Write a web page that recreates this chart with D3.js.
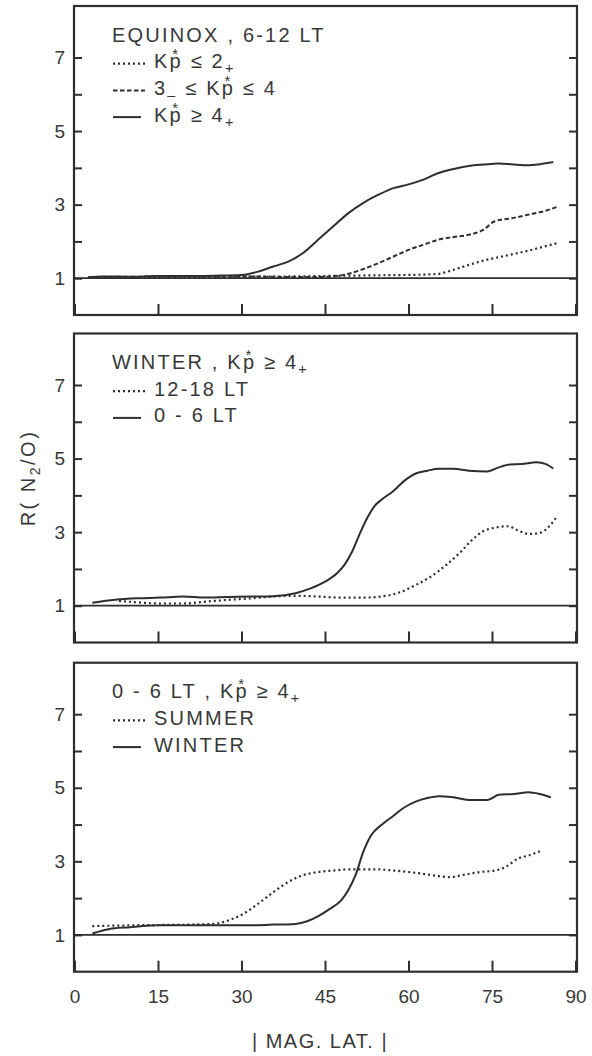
<!DOCTYPE html>
<html><head><meta charset="utf-8">
<script src="https://cdn.jsdelivr.net/npm/d3@7"></script>
<style>
body{margin:0;background:#fff}
svg{display:block}
text{font-family:"Liberation Sans",Arial,Helvetica,sans-serif;fill:#383838}
</style>
</head><body>
<svg id="chart" width="592" height="1056"></svg>
<script>
// ---------- data ----------
const xTickValues = [0, 15, 30, 45, 60, 75, 90];
const yTickValues = [1, 2, 3, 4, 5, 6, 7];
const yTickLabels = [1, 3, 5, 7];

// Panel 1: EQUINOX, 6-12 LT
const eqLatLow = [2.5, 10, 20, 30, 40, 45, 50, 55, 60, 63, 65.4, 68.1, 70.8, 73.5, 76.2, 78.9, 81.6, 84.3, 86.7];
const eqLow    = [1.02, 1.03, 1.03, 1.04, 1.05, 1.06, 1.07, 1.08, 1.09, 1.10, 1.12, 1.23, 1.36, 1.48, 1.57, 1.66, 1.75, 1.86, 1.95];
const eqLatMid = [2.5, 10, 20, 30, 35, 40, 45, 47.5, 49.2, 51.9, 54.6, 57.3, 60, 62.7, 65.4, 68.1, 70.8, 73.5, 75.5, 78.9, 81.6, 84.3, 86.7];
const eqMid    = [1.03, 1.04, 1.05, 1.05, 1.04, 1.03, 1.04, 1.07, 1.12, 1.25, 1.41, 1.59, 1.77, 1.91, 2.05, 2.12, 2.18, 2.32, 2.55, 2.64, 2.73, 2.82, 2.94];
const eqLatHigh = [2.5, 5, 10, 15, 20, 25, 30, 33, 35.7, 38.4, 41, 43.8, 46.5, 49.2, 51.9, 54.6, 57.3, 60, 62.7, 65.4, 68.1, 70.8, 73.5, 76.2, 78.9, 81.6, 83.6, 86];
const eqHigh    = [1.03, 1.05, 1.04, 1.06, 1.06, 1.07, 1.09, 1.18, 1.32, 1.45, 1.68, 2.05, 2.41, 2.77, 3.05, 3.27, 3.45, 3.55, 3.68, 3.86, 3.97, 4.05, 4.09, 4.12, 4.09, 4.07, 4.10, 4.16];

// Panel 2: WINTER, Kp* >= 4+
const wiLatNoon = [8, 11.4, 15.4, 19.5, 23.5, 27.6, 31.6, 35.7, 39.7, 43.8, 47.9, 51.9, 56, 58.7, 61.4, 64, 66.8, 69.5, 71.5, 73.5, 75.5, 77.9, 79.6, 81.6, 83.6, 85.3, 86.7];
const wiNoon    = [1.13, 1.09, 1.06, 1.06, 1.11, 1.16, 1.20, 1.25, 1.27, 1.25, 1.22, 1.22, 1.27, 1.38, 1.57, 1.79, 2.11, 2.48, 2.80, 3.03, 3.12, 3.16, 3.05, 2.95, 2.98, 3.16, 3.44];
const wiLatNight = [3.2, 7.3, 11.4, 15.4, 19.5, 23.5, 27.6, 31.6, 35.7, 39.7, 42.4, 45.1, 47.2, 48.5, 49.9, 51.2, 52.6, 53.9, 55.3, 57.3, 59.3, 61.4, 63.4, 65.4, 68.1, 70.8, 74.2, 76.2, 78.2, 80.3, 83, 84.7, 86];
const wiNight    = [1.08, 1.16, 1.20, 1.22, 1.25, 1.22, 1.24, 1.25, 1.26, 1.34, 1.47, 1.66, 1.89, 2.11, 2.48, 2.94, 3.39, 3.71, 3.90, 4.12, 4.40, 4.60, 4.67, 4.72, 4.72, 4.67, 4.65, 4.76, 4.84, 4.85, 4.90, 4.85, 4.73];

// Panel 3: 0-6 LT, Kp* >= 4+
const nLatSummer = [3.2, 10, 15.4, 20.8, 24.9, 27.6, 30.3, 33, 35.7, 38.4, 41, 43.8, 46.5, 49.2, 51.9, 54.6, 57.3, 60, 62.7, 65.4, 67.4, 70.1, 72.8, 75.5, 77.5, 79.6, 81.6, 84];
const nSummer    = [1.24, 1.26, 1.27, 1.28, 1.30, 1.39, 1.57, 1.85, 2.16, 2.44, 2.62, 2.71, 2.75, 2.78, 2.78, 2.78, 2.75, 2.71, 2.66, 2.60, 2.57, 2.64, 2.71, 2.75, 2.85, 3.07, 3.16, 3.30];
const nLatWinter = [3.2, 5.9, 10, 15.4, 20.8, 26.2, 31.6, 35.7, 39.7, 41.8, 43.8, 45.8, 47.9, 49.2, 50.5, 51.9, 53.2, 55.3, 57.3, 59.3, 61.4, 63.4, 65.4, 68.1, 70.8, 74.2, 76.2, 78.9, 81.6, 83.6, 85.6];
const nWinter    = [1.04, 1.15, 1.21, 1.26, 1.26, 1.26, 1.26, 1.28, 1.30, 1.37, 1.51, 1.70, 1.94, 2.22, 2.63, 3.27, 3.69, 4.01, 4.24, 4.47, 4.63, 4.72, 4.77, 4.74, 4.67, 4.67, 4.81, 4.83, 4.88, 4.83, 4.74];

// legend text segments
const p1Title = [{t:"EQUINOX , 6-12 LT"}];
const p1Labels = [
  [{t:"K"},{t:"p",star:true},{t:" ≤ 2"},{t:"+",sub:true}],
  [{t:"3"},{t:"–",sub:true},{t:" ≤ K"},{t:"p",star:true},{t:" ≤ 4"}],
  [{t:"K"},{t:"p",star:true},{t:" ≥ 4"},{t:"+",sub:true}]
];
const p2Title = [{t:"WINTER , K"},{t:"p",star:true},{t:" ≥ 4"},{t:"+",sub:true}];
const p2Labels = [[{t:"12-18 LT"}],[{t:"0 - 6 LT"}]];
const p3Title = [{t:"0 - 6 LT , K"},{t:"p",star:true},{t:" ≥ 4"},{t:"+",sub:true}];
const p3Labels = [[{t:"SUMMER"}],[{t:"WINTER"}]];

// ---------- layout ----------
const svg = d3.select("#chart");
const left = 74, right = 577, panelH = 309;
const x = d3.scaleLinear().domain([0, 90]).range([74.5, 575.5]);
const ink = "#2e2e2e";
const dashes = {solid: null, dotted: "2,3", dashed: "4.5,2.5"};

const panels = [
  {top: 6, title: p1Title, series: [
    {lat: eqLatLow, val: eqLow, style: "dotted", label: p1Labels[0]},
    {lat: eqLatMid, val: eqMid, style: "dashed", label: p1Labels[1]},
    {lat: eqLatHigh, val: eqHigh, style: "solid", label: p1Labels[2]}
  ]},
  {top: 333.5, title: p2Title, series: [
    {lat: wiLatNoon, val: wiNoon, style: "dotted", label: p2Labels[0]},
    {lat: wiLatNight, val: wiNight, style: "solid", label: p2Labels[1]}
  ]},
  {top: 662.7, title: p3Title, series: [
    {lat: nLatSummer, val: nSummer, style: "dotted", label: p3Labels[0]},
    {lat: nLatWinter, val: nWinter, style: "solid", label: p3Labels[1]}
  ]}
];

function measure(str, size) {
  const t = svg.append("text").attr("font-size", size).text(str);
  const w = t.node().getComputedTextLength();
  t.remove();
  return w;
}

function richText(g, x0, y0, segs, size, spacing) {
  const t = g.append("text").attr("x", x0).attr("y", y0)
    .attr("font-size", size).attr("letter-spacing", spacing);
  const starSize = size * 0.75;
  const lift = 9;
  const pAdv = measure("p", size), sAdv = measure("*", starSize);
  let shift = 0, pendingDx = 0;
  segs.forEach(s => {
    const ts = t.append("tspan").text(s.t);
    const target = s.sub ? 5 : 0;
    if (target !== shift) { ts.attr("dy", target - shift); shift = target; }
    if (pendingDx) { ts.attr("dx", pendingDx); pendingDx = 0; }
    if (s.sub) ts.attr("font-size", size * 0.72);
    if (s.star) {
      t.append("tspan").attr("font-size", starSize)
        .attr("dx", -(pAdv / 2 + sAdv / 2 + spacing)).attr("dy", -lift).text("*");
      shift -= lift;
      pendingDx = pAdv / 2 - sAdv / 2;
    }
  });
  return t;
}

panels.forEach((p, pi) => {
  const y = d3.scaleLinear().domain([0, 8.4]).range([p.top + panelH, p.top]);
  const g = svg.append("g");

  // reference line at R = 1
  g.append("line").attr("x1", left).attr("x2", right)
    .attr("y1", y(1)).attr("y2", y(1))
    .attr("stroke", ink).attr("stroke-width", 1.8);

  // axes
  const ay = g.append("g").attr("transform", `translate(${left},0)`)
    .call(d3.axisLeft(y).tickValues(yTickValues).tickSize(-8).tickPadding(9)
      .tickFormat(d => yTickLabels.includes(d) ? d : ""));
  const ay2 = g.append("g").attr("transform", `translate(${right},0)`)
    .call(d3.axisRight(y).tickValues(yTickValues).tickSize(-8).tickFormat(""));
  const ax = g.append("g").attr("transform", `translate(0,${p.top + panelH})`)
    .call(d3.axisBottom(x).tickValues(xTickValues).tickSize(-11).tickPadding(18)
      .tickFormat(pi === 2 ? d3.format("d") : () => ""));
  [ay, ay2, ax].forEach(a => {
    a.select(".domain").remove();
    a.selectAll(".tick line").attr("stroke", ink).attr("stroke-width", 2);
    a.selectAll("text").attr("font-size", 19)
      .style("font-family", '"Liberation Sans",Arial,sans-serif').attr("fill", "#383838");
  });

  // frame
  g.append("rect").attr("x", left).attr("y", p.top)
    .attr("width", right - left).attr("height", panelH)
    .attr("fill", "none").attr("stroke", ink).attr("stroke-width", 2.2);

  // data lines
  const line = d3.line().x(d => x(d[0])).y(d => y(d[1])).curve(d3.curveMonotoneX);
  p.series.forEach(s => {
    g.append("path").datum(d3.zip(s.lat, s.val)).attr("d", line)
      .attr("fill", "none").attr("stroke", ink)
      .attr("stroke-width", s.style === "dotted" ? 2.2 : 2)
      .attr("stroke-dasharray", dashes[s.style]);
  });

  // legend
  const base = p.top + 35.5, step = 26.7;
  richText(g, 112, base, p.title, 20, 2.2);
  p.series.forEach((s, i) => {
    const yy = base + step * (i + 1);
    g.append("line").attr("x1", 113).attr("x2", s.style === "solid" ? 141 : 145)
      .attr("y1", yy - 4.5).attr("y2", yy - 4.5)
      .attr("stroke", ink).attr("stroke-width", s.style === "dotted" ? 2.2 : 2)
      .attr("stroke-dasharray", dashes[s.style]);
    richText(g, 154, yy, s.label, 20, 2.2);
  });
});

// axis titles
svg.append("text").attr("transform", "translate(35,478) rotate(-90)")
  .attr("text-anchor", "middle").attr("font-size", 20).attr("letter-spacing", 2.5)
  .call(t => {
    t.append("tspan").text("R( N");
    t.append("tspan").attr("dy", 5).attr("font-size", 14).text("2");
    t.append("tspan").attr("dy", -5).text("/O)");
  });
svg.append("text").attr("x", 320).attr("y", 1048).attr("text-anchor", "middle")
  .attr("font-size", 20).attr("letter-spacing", 1.5).text("| MAG. LAT. |");
</script>
</body></html>
